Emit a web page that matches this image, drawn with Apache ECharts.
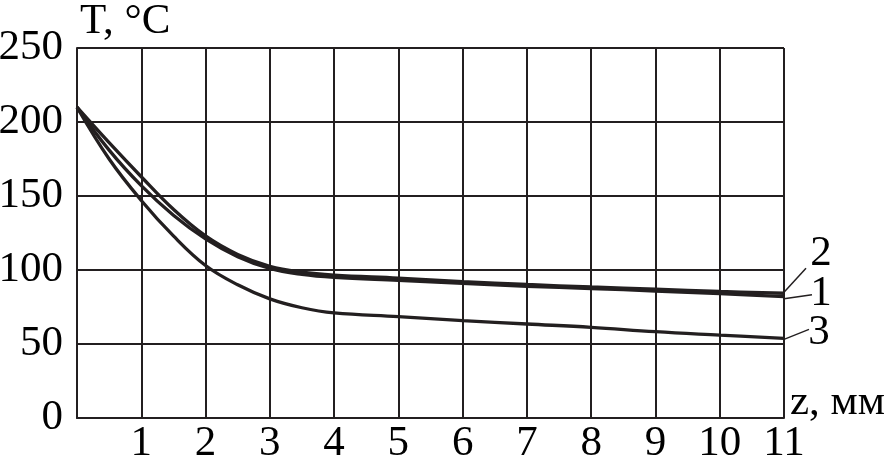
<!DOCTYPE html>
<html>
<head>
<meta charset="utf-8">
<script src="https://cdn.jsdelivr.net/npm/echarts@6/dist/echarts.min.js"></script>
<style>
html,body{margin:0;padding:0;background:#fff;}
#c{width:889px;height:460px;}
</style>
</head>
<body>
<div id="c"></div>
<script>
const zValues = [0, 0.5, 1, 1.5, 2, 2.5, 3, 3.5, 4, 5, 6, 7, 8, 9, 10, 11];
const curve1 = [210, 181, 157, 137, 121, 109, 101, 97, 95, 93, 91, 89, 87.5, 85.8, 84, 82];
const curve2 = [210, 186, 163, 141, 123, 110.5, 102.5, 98.5, 96.5, 94.5, 92.2, 90.2, 88.5, 87, 85.5, 84.3];
const curve3 = [210, 175, 147, 123, 103, 90, 80.5, 74.5, 71, 68.5, 65.8, 63.5, 61.3, 58.3, 56, 53.8];
const seriesNames = ['1', '2', '3'];
const xTicks = [0, 1, 2, 3, 4, 5, 6, 7, 8, 9, 10, 11];
const yTicks = [0, 50, 100, 150, 200, 250];

const INK = '#231f20';
const FONT = '"Liberation Serif", "Times New Roman", serif';
const FS = 43;

function pairs(ys) { return zValues.map((z, i) => [z, ys[i]]); }

const chart = echarts.init(document.getElementById('c'), null, {renderer: 'canvas'});
const lineStyle = {color: INK, width: 3.3};
const common = {type: 'line', smooth: 0.4, symbol: 'none', lineStyle: lineStyle, z: 3};
chart.setOption({
  animation: false,
  backgroundColor: '#fff',
  grid: {left: 77, right: 105, top: 48, bottom: 42, containLabel: false, outerBoundsMode: 'none'},
  xAxis: {
    type: 'value', min: xTicks[0], max: xTicks[xTicks.length - 1], interval: 1,
    axisLine: {show: true, lineStyle: {color: INK, width: 2}},
    axisTick: {show: false},
    splitLine: {show: true, lineStyle: {color: INK, width: 2}},
    axisLabel: {
      color: '#000', fontFamily: FONT, fontSize: FS, margin: 4,
      formatter: v => (v === 0 ? '' : String(v))
    }
  },
  yAxis: {
    type: 'value', min: yTicks[0], max: yTicks[yTicks.length - 1], interval: 50,
    axisLine: {show: true, lineStyle: {color: INK, width: 2}},
    axisTick: {show: false},
    splitLine: {show: true, lineStyle: {color: INK, width: 2}},
    axisLabel: {color: '#000', fontFamily: FONT, fontSize: FS, margin: 14}
  },
  series: [
    Object.assign({name: seriesNames[0], data: pairs(curve1)}, common),
    Object.assign({name: seriesNames[1], data: pairs(curve2)}, common),
    Object.assign({name: seriesNames[2], data: pairs(curve3)}, common)
  ]
});

const lastZ = zValues[zValues.length - 1];
const p1 = chart.convertToPixel({gridIndex: 0}, [lastZ, curve1[curve1.length - 1]]);
const p2 = chart.convertToPixel({gridIndex: 0}, [lastZ, curve2[curve2.length - 1]]);
const p3 = chart.convertToPixel({gridIndex: 0}, [lastZ, curve3[curve3.length - 1]]);
const origin = chart.convertToPixel({gridIndex: 0}, [0, yTicks[yTicks.length - 1]]);
const xEnd = chart.convertToPixel({gridIndex: 0}, [lastZ, 0]);

const txt = (x, y, s, align, vAlign) => ({
  type: 'text', x: x, y: y,
  style: {text: s, fill: '#000', font: FS + 'px ' + FONT, align: align || 'center', verticalAlign: vAlign || 'middle'}
});
const seg = (x1, y1, x2, y2) => ({
  type: 'line', shape: {x1: x1, y1: y1, x2: x2, y2: y2},
  style: {stroke: INK, lineWidth: 1.5}
});

chart.setOption({
  graphic: [
    txt(origin[0] + 3, 0, 'T, °C', 'left', 'top'),
    txt(xEnd[0] + 6, xEnd[1] + 6, 'z, мм', 'left', 'bottom'),
    seg(p2[0], p2[1] - 1, p2[0] + 22, p2[1] - 25),
    txt(p2[0] + 37, p2[1] - 40, seriesNames[1]),
    seg(p1[0], p1[1] + 2, p1[0] + 28, p1[1] - 2),
    txt(p1[0] + 37, p1[1] - 3, seriesNames[0]),
    seg(p3[0], p3[1] + 1, p3[0] + 25, p3[1] - 9),
    txt(p3[0] + 35, p3[1] - 6, seriesNames[2])
  ]
});
</script>
</body>
</html>
